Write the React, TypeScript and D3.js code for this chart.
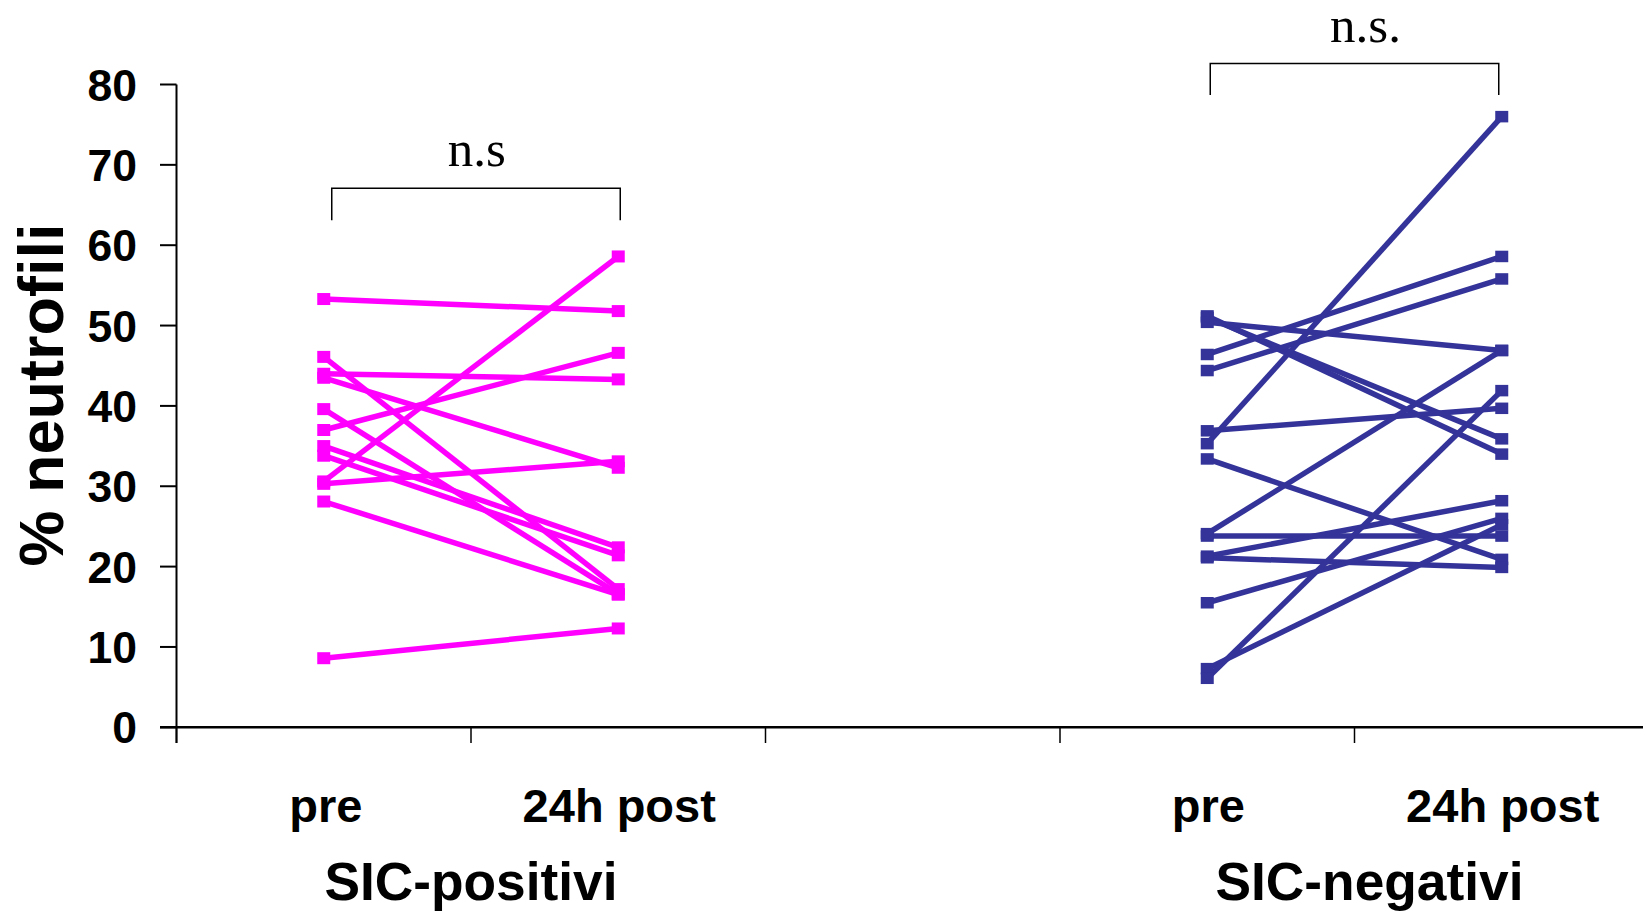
import React from "react";
import * as d3 from "d3";

const categories = ["pre-pos", "post-pos", "gap", "pre-neg", "post-neg"];
const categoryLabels = ["pre", "24h post", "", "pre", "24h post"];
const groupLabels = ["SIC-positivi", "SIC-negativi"];
const yTicks = [0, 10, 20, 30, 40, 50, 60, 70, 80];

const pinkPre = [53.3, 46.1, 44.0, 43.5, 39.6, 37.0, 35.0, 33.8, 30.6, 30.3, 28.1, 8.6];
const pinkPost = [51.8, 17.2, 43.3, 32.3, 16.6, 46.6, 22.4, 21.4, 58.6, 33.1, 16.5, 12.3];

const bluePre = [51.2, 51.0, 50.4, 46.4, 44.4, 36.9, 35.3, 33.4, 24.1, 23.8, 21.3, 21.1, 15.5, 7.3, 6.1];
const bluePost = [34.0, 35.9, 46.9, 58.6, 55.8, 39.7, 76.0, 20.9, 46.9, 23.8, 28.2, 19.9, 26.0, 25.2, 41.9];

const sigLabels = ["n.s", "n.s."];

const W = 1643;
const H = 911;
const PINK = "#FF00FF";
const BLUE = "#333399";
const SANS = "'Liberation Sans', Arial, sans-serif";
const SERIF = "'Liberation Serif', 'Times New Roman', serif";

export default function App() {
  const x = d3.scaleBand<string>().domain(categories).range([176.5, 176.5 + 5 * 294.5]).padding(0);
  const y = d3.scaleLinear().domain([0, 80]).range([727.3, 84.5]);
  const cx = (c: string) => (x(c) as number) + x.bandwidth() / 2;
  const line = d3.line<[number, number]>().x((d) => d[0]).y((d) => d[1]);

  const groups = [
    { pre: pinkPre, post: pinkPost, a: "pre-pos", b: "post-pos", color: PINK, mh: 12 },
    { pre: bluePre, post: bluePost, a: "pre-neg", b: "post-neg", color: BLUE, mh: 11.5 },
  ];

  const boundaries = categories.map((c) => x(c) as number).concat([(x("post-neg") as number) + x.bandwidth()]);

  const brackets = [
    { x1: cx("pre-pos") + 8, x2: cx("post-pos") + 2, top: 67.1, bottom: 63.1, label: sigLabels[0], lx: 476.7, ly: 166 },
    { x1: cx("pre-neg") + 3, x2: cx("post-neg") - 3, top: 82.6, bottom: 78.7, label: sigLabels[1], lx: 1365.5, ly: 42 },
  ];

  const groupLabelPos = [
    { x: (cx("pre-pos") + cx("post-pos")) / 2, label: groupLabels[0] },
    { x: (cx("pre-neg") + cx("post-neg")) / 2 + 15, label: groupLabels[1] },
  ];

  return (
    <svg width={W} height={H} style={{ position: "absolute", left: 0, top: 0, background: "#fff" }}>
      <rect x={0} y={0} width={W} height={H} fill="#fff" />
      {/* y axis */}
      <line x1={176.5} x2={176.5} y1={y(80)} y2={743} stroke="#000" strokeWidth={2} />
      {yTicks.map((t) => (
        <g key={t}>
          <line x1={160} x2={176.5} y1={y(t)} y2={y(t)} stroke="#000" strokeWidth={2} />
          <text
            x={137}
            y={y(t) + 16}
            textAnchor="end"
            fontFamily={SANS}
            fontWeight="bold"
            fontSize={44.5}
            fill="#000"
          >
            {t}
          </text>
        </g>
      ))}
      <text
        transform={`translate(63,395) rotate(-90)`}
        textAnchor="middle"
        fontFamily={SANS}
        fontWeight="bold"
        fontSize={63}
        fill="#000"
      >
        % neutrofili
      </text>
      {/* x axis */}
      <line x1={160} x2={W} y1={y(0)} y2={y(0)} stroke="#000" strokeWidth={2.5} />
      {boundaries.map((b, i) => (
        <line key={i} x1={b} x2={b} y1={y(0)} y2={743} stroke="#000" strokeWidth={1.5} />
      ))}
      {categories.map((c, i) =>
        categoryLabels[i] ? (
          <text
            key={c}
            x={cx(c) + (i === 0 ? 2 : 1)}
            y={822}
            textAnchor="middle"
            fontFamily={SANS}
            fontWeight="bold"
            fontSize={47}
            fill="#000"
          >
            {categoryLabels[i]}
          </text>
        ) : null
      )}
      {groupLabelPos.map((g) => (
        <text
          key={g.label}
          x={g.x}
          y={900}
          textAnchor="middle"
          fontFamily={SANS}
          fontWeight="bold"
          fontSize={53.3}
          fill="#000"
        >
          {g.label}
        </text>
      ))}
      {/* brackets */}
      {brackets.map((b, i) => (
        <g key={i}>
          <path
            d={`M${b.x1},${y(b.bottom)} L${b.x1},${y(b.top)} L${b.x2},${y(b.top)} L${b.x2},${y(b.bottom)}`}
            fill="none"
            stroke="#000"
            strokeWidth={1.5}
          />
          <text x={b.lx} y={b.ly} textAnchor="middle" fontFamily={SERIF} fontSize={51} fill="#000">
            {b.label}
          </text>
        </g>
      ))}
      {/* data */}
      {groups.map((g, gi) => (
        <g key={gi}>
          {g.pre.map((v, i) => (
            <path
              key={"l" + i}
              d={line([
                [cx(g.a), y(v)],
                [cx(g.b), y(g.post[i])],
              ]) as string}
              stroke={g.color}
              strokeWidth={5.5}
              fill="none"
            />
          ))}
          {g.pre.map((v, i) => (
            <g key={"m" + i}>
              <rect x={cx(g.a) - 6.5} y={y(v) - g.mh / 2} width={13} height={g.mh} fill={g.color} />
              <rect x={cx(g.b) - 6.5} y={y(g.post[i]) - g.mh / 2} width={13} height={g.mh} fill={g.color} />
            </g>
          ))}
        </g>
      ))}
    </svg>
  );
}
